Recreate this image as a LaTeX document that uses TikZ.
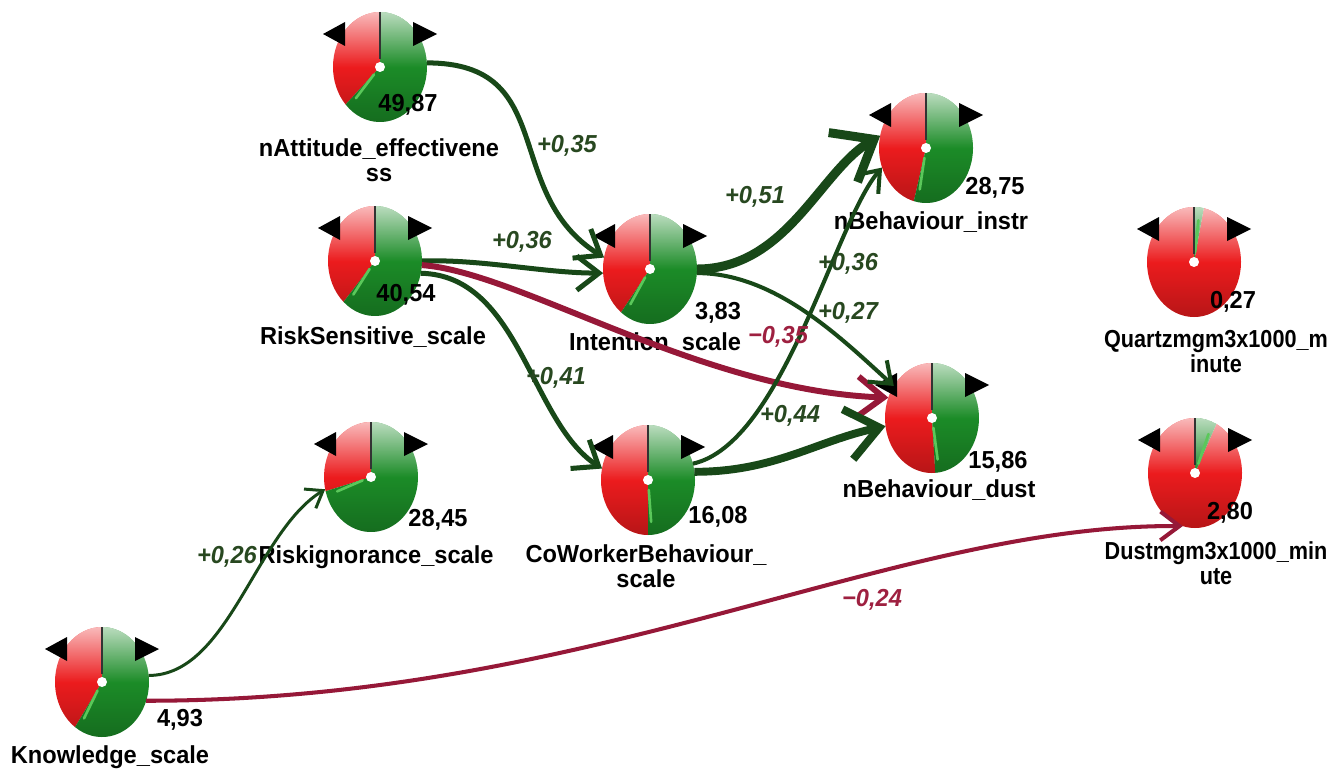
\documentclass[tikz,border=0pt]{standalone}
\usepackage{fontspec}
\setmainfont{Liberation Sans}
\newfontfamily\gaugefont{Liberation Sans}[FakeStretch=0.96]
\newfontfamily\gaugefontnarrow{Liberation Sans}[FakeStretch=0.88]
\usetikzlibrary{shapes.geometric,arrows.meta,positioning,fadings}

\definecolor{piered}{RGB}{236,28,30}
\definecolor{piegreen}{RGB}{28,140,40}
\definecolor{pielight}{RGB}{90,200,90}
\definecolor{linkgreen}{RGB}{24,72,24}
\definecolor{linkred}{RGB}{150,24,56}
\definecolor{wgtgreen}{RGB}{40,72,32}
\definecolor{wgtred}{RGB}{158,32,64}

\tikzfading[name=glossfade, top color=transparent!30, bottom color=transparent!100]
\tikzfading[name=shadefade, top color=transparent!100, bottom color=transparent!78]

% pie of one gauge: #1 = node name, #2 = angle where red ends
\newcommand{\gaugepie}[2]{%
  \begin{scope}[shift={(#1.center)}]
    \fill[piered] (0,0) -- (90:47 and 55) arc[start angle=90, end angle=#2, x radius=47, y radius=55] -- cycle;
    \fill[piegreen] (0,0) -- (#2:47 and 55) arc[start angle=#2, end angle=450, x radius=47, y radius=55] -- cycle;
    \fill[white, path fading=glossfade] (180:47 and 55) arc[start angle=180, end angle=0, x radius=47, y radius=55] -- cycle;
    \fill[black, path fading=shadefade] (180:47 and 55) arc[start angle=180, end angle=360, x radius=47, y radius=55] -- cycle;
    \draw[pielight, line width=1.5pt, line cap=round] ({#2+5}:9 and 10) -- ({#2+5}:36 and 42);
    \draw[black!80, line width=1.2pt] (0,8) -- (0,55);
    \fill[white] (0,0) circle[radius=5];
    \fill[black] (-35,45) -- (-57,33) -- (-35,21) -- cycle;
    \fill[black] (33,45) -- (57,33) -- (33,21) -- cycle;
  \end{scope}}

\begin{document}
\begin{tikzpicture}[
    x=0.02cm, y=0.02cm,
    gauge/.style={
        ellipse,
        minimum width=1.88cm,
        minimum height=2.2cm,
        inner sep=0pt,
        outer sep=0pt
    },
    val/.style={font=\gaugefont\bfseries\fontsize{14}{14.2}\selectfont, inner sep=0pt},
    lbl/.style={font=\gaugefont\bfseries\fontsize{14}{14.2}\selectfont, align=center, inner sep=0pt},
    lblnarrow/.style={lbl, font=\gaugefontnarrow\bfseries\fontsize{14}{14.2}\selectfont},
    wgt/.style={font=\gaugefont\bfseries\itshape\fontsize{14}{14}\selectfont, text=wgtgreen, inner sep=0pt},
    wgtneg/.style={wgt, text=wgtred},
    link/.style={draw=linkgreen, line width=#1, -{Straight Barb[length=3pt 3.4, width=3pt 5.8]}},
    linkneg/.style={link=#1, draw=linkred}
]
    \useasboundingbox (0,0) rectangle (1331,772);

    % Gauges
    \node[gauge] (att) at (380,705) {};
    \gaugepie{att}{223}
    \node[gauge] (risks) at (375,511) {};
    \gaugepie{risks}{228}
    \node[gauge] (intent) at (650,503) {};
    \gaugepie{intent}{232}
    \node[gauge] (cowork) at (648,292) {};
    \gaugepie{cowork}{270}
    \node[gauge] (instr) at (926,624) {};
    \gaugepie{instr}{255}
    \node[gauge] (dustb) at (932,354) {};
    \gaugepie{dustb}{274}
    \node[gauge] (quartz) at (1194,510) {};
    \gaugepie{quartz}{438}
    \node[gauge] (dustm) at (1195,299) {};
    \gaugepie{dustm}{423}
    \node[gauge] (ignor) at (371,295) {};
    \gaugepie{ignor}{195}
    \node[gauge] (know) at (102,90) {};
    \gaugepie{know}{235}

    % Values and names
    \node[val] (attval) at (408,667) {49,87};
    \node[lbl] (attlbl) at (379,612) {nAttitude\_effectivene\\ss};
    \node[val] (risksval) at (406,477) {40,54};
    \node[lbl] (riskslbl) at (373,435) {RiskSensitive\_scale};
    \node[val] (intentval) at (718,459) {3,83};
    \node[lbl] (intentlbl) at (655,429) {Intention\_scale};
    \node[val] (coworkval) at (718,255) {16,08};
    \node[lbl] (coworklbl) at (646,206) {CoWorkerBehaviour\_\\scale};
    \node[val] (instrval) at (995,584) {28,75};
    \node[lbl] (instrlbl) at (931,550) {nBehaviour\_instr};
    \node[val] (dustbval) at (998,310) {15,86};
    \node[lbl] (dustblbl) at (939,282) {nBehaviour\_dust};
    \node[val] (quartzval) at (1233,470) {0,27};
    \node[lblnarrow] (quartzlbl) at (1216,420) {Quartzmgm3x1000\_m\\inute};
    \node[val] (dustmval) at (1230,259) {2,80};
    \node[lblnarrow] (dustmlbl) at (1216,209) {Dustmgm3x1000\_min\\ute};
    \node[val] (ignorval) at (438,252) {28,45};
    \node[lbl] (ignorlbl) at (376,215) {Riskignorance\_scale};
    \node[val] (knowval) at (180,52) {4,93};
    \node[lbl] (knowlbl) at (110,15) {Knowledge\_scale};

    % Links
    \draw[link=2.85pt] (att.5) .. controls +(133,0) and +(-104,65) .. (intent.166);
    \draw[link=2.85pt] (risks.east) .. controls +(60,2) and +(-60,0) .. (intent.185);
    \draw[linkneg=3.4pt] (risks.355) .. controls +(98,-7) and +(-189,7) .. (dustb.155);
    \draw[link=2.85pt] (risks.345) .. controls +(99,-2) and +(-72,47) .. (cowork.166);
    \draw[link=5.1pt] (intent.east) .. controls +(90,0) and +(-60,-35) .. (instr.165);
    \draw[link=2.3pt] (intent.355) .. controls +(80,0) and +(-50,45) .. (dustb.140);
    \draw[link=2.3pt] (cowork.20) .. controls +(90,20) and +(-47,-54) .. (instr.204);
    \draw[link=4.5pt] (cowork.10) .. controls +(80,0) and +(-70,-15) .. (dustb.190);
    \draw[link=1.7pt] (know.8) .. controls +(80,0) and +(-70,-43) .. (ignor.195);
    \draw[linkneg=2.3pt] (know.337) .. controls +(450,0) and +(-290,2) .. (dustm.257);

    % Weights
    \node[wgt] (w1) at (567,626) {+0,35};
    \node[wgt] (w2) at (522,530) {+0,36};
    \node[wgtneg] (w3) at (778,435) {−0,35};
    \node[wgt] (w4) at (556,394) {+0,41};
    \node[wgt] (w5) at (755,575) {+0,51};
    \node[wgt] (w6) at (848,508) {+0,36};
    \node[wgt] (w7) at (848,459) {+0,27};
    \node[wgt] (w8) at (790,356) {+0,44};
    \node[wgt] (w9) at (227,215) {+0,26};
    \node[wgtneg] (w10) at (872,172) {−0,24};

\end{tikzpicture}
\end{document}
